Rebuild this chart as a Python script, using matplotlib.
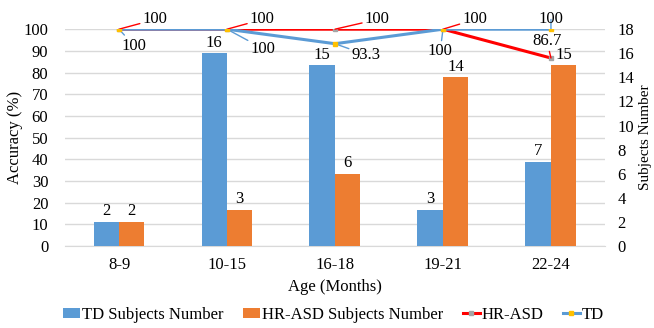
import numpy as np
import matplotlib
matplotlib.use("Agg")
import matplotlib.pyplot as plt

# ============================================================
# Data
# ============================================================

age_groups = ["8-9", "10-15", "16-18", "19-21", "22-24"]

td_subjects = [2, 16, 15, 3, 7]
hr_asd_subjects = [2, 3, 6, 14, 15]

td_accuracy = [100, 100, 93.3, 100, 100]
hr_asd_accuracy = [100, 100, 100, 100, 86.7]

# label offsets (points) for the line callouts
hr_offsets = [(17, 7), (16.5, 7), (21.5, 7), (14, 7), (-3, 12.5)]
td_offsets = [(11, -12), (17, -14), (12, -8), (-2, -16), (0, 7)]

# ============================================================
# Style
# ============================================================

plt.rcParams["font.family"] = ["Liberation Serif", "DejaVu Serif"]
plt.rcParams["font.size"] = 12

BLUE = "#5B9BD5"
ORANGE = "#ED7D31"
RED = "#FF0000"
GRID = "#D9D9D9"

fig = plt.figure(figsize=(6.54, 3.28), dpi=100)
ax = fig.add_axes([0.0994, 0.250, 0.8256, 0.661])
ax_bar = ax.twinx()
ax_line = ax.twinx()

x = np.arange(len(age_groups))
width = 0.236

# ------------------------------------------------------------
# Base axis: accuracy ticks and grid
# ------------------------------------------------------------
ax.set_ylim(0, 100)
ax.set_yticks(np.arange(0, 101, 10))
ax.set_xlim(-0.5, len(age_groups) - 0.5)
ax.set_xticks(x)
ax.set_xticklabels(age_groups)
ax.grid(axis="y", color=GRID, linewidth=1)
ax.tick_params(axis="both", length=0, pad=8)
ax.tick_params(axis="y", pad=12)
for side in ["top", "right", "left"]:
    ax.spines[side].set_visible(False)
ax.spines["bottom"].set_color(GRID)
ax.set_ylabel("Accuracy (%)", labelpad=0)
ax.set_xlabel("Age (Months)", labelpad=4)

# ------------------------------------------------------------
# Bars: subjects number (right axis)
# ------------------------------------------------------------
bars_td = ax_bar.bar(x - width / 2, td_subjects, width, color=BLUE,
                     label="TD Subjects Number")
bars_hr = ax_bar.bar(x + width / 2, hr_asd_subjects, width, color=ORANGE,
                     label="HR-ASD Subjects Number")
ax_bar.bar_label(bars_td, padding=2)
ax_bar.bar_label(bars_hr, padding=2)
ax_bar.set_ylim(0, 18)
ax_bar.set_yticks(np.arange(0, 19, 2))
ax_bar.tick_params(axis="y", length=0, pad=9)
for side in ax_bar.spines:
    ax_bar.spines[side].set_visible(False)
ax_bar.set_ylabel("Subjects Number", fontsize=11)
ax_bar.yaxis.label.set_va("center")
ax_bar.yaxis.set_label_coords(1.075, 0.5)

# ------------------------------------------------------------
# Lines: accuracy
# ------------------------------------------------------------
ax_line.set_ylim(0, 100)
ax_line.set_yticks([])
for side in ax_line.spines:
    ax_line.spines[side].set_visible(False)

line_hr, = ax_line.plot(x, hr_asd_accuracy, color=RED, linewidth=2.2,
                        marker="s", markersize=3, markerfacecolor="#A5A5A5",
                        markeredgecolor="#A5A5A5", label="HR-ASD", zorder=3)
line_td, = ax_line.plot(x, td_accuracy, color=BLUE, linewidth=2.2,
                        marker="s", markersize=3, markerfacecolor="#FFC000",
                        markeredgecolor="#FFC000", label="TD", zorder=4)

for xi, val, off in zip(x, hr_asd_accuracy, hr_offsets):
    ax_line.annotate(f"{val:g}", xy=(xi, val), xytext=off,
                     textcoords="offset points",
                     ha="left" if off[0] > 4 else "center", va="center",
                     arrowprops=dict(arrowstyle="-", color=RED, lw=1,
                                     shrinkA=0, shrinkB=0))

for xi, val, off in zip(x, td_accuracy, td_offsets):
    ax_line.annotate(f"{val:g}", xy=(xi, val), xytext=off,
                     textcoords="offset points",
                     ha="left" if off[0] > 11 else "center", va="center",
                     arrowprops=dict(arrowstyle="-", color=BLUE, lw=1,
                                     shrinkA=0, shrinkB=0))

# ------------------------------------------------------------
# Legend
# ------------------------------------------------------------
fig.legend(handles=[bars_td, bars_hr, line_hr, line_td], loc="lower center",
           bbox_to_anchor=(0.51, -0.03), ncol=4, frameon=False,
           handlelength=1.0, handleheight=0.6, handletextpad=0.1,
           columnspacing=1.2)

fig.savefig("out.png", dpi=100)
